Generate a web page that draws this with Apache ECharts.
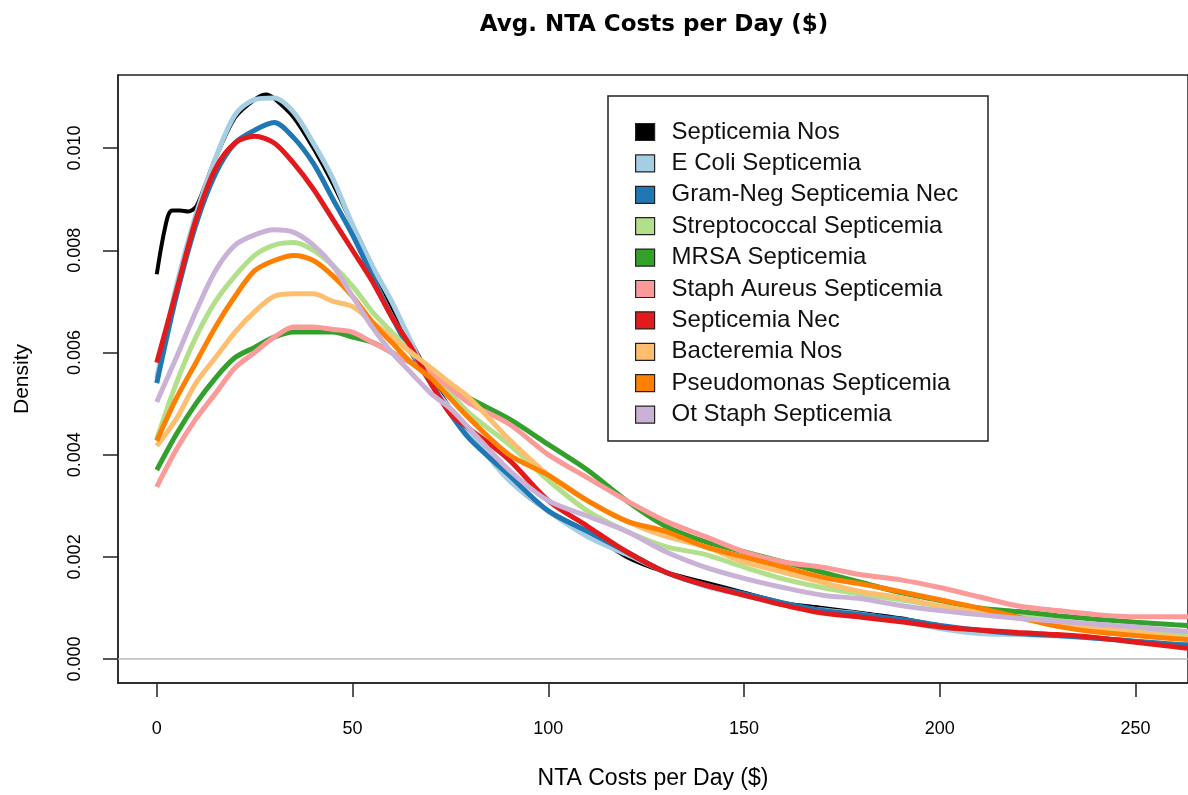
<!DOCTYPE html>
<html>
<head>
<meta charset="utf-8">
<script src="https://cdn.jsdelivr.net/npm/echarts@6/dist/echarts.min.js"></script>
<style>
  html, body { margin: 0; padding: 0; background: #fff; }
  #container { width: 1188px; height: 795px; }
</style>
</head>
<body>
<div id="container"></div>
<script>
// density estimates
var xs = [0, 5, 10, 15, 20, 25, 30, 35, 40, 45, 50, 55, 60, 65, 70, 75, 80, 90, 100, 110,
          120, 130, 140, 150, 160, 170, 180, 190, 200, 210, 220, 230, 240, 250, 260, 265];

var nosXs = [0, 1, 2, 3, 4, 6, 8, 10, 12, 15, 20, 25, 28, 30, 35, 40, 45, 50, 55, 60, 65, 70,
             75, 80, 90, 100, 110, 120, 130, 140, 150, 160, 170, 180, 190, 200, 210, 220, 230,
             240, 250, 260, 265];
var septicemiaNos = [0.00753, 0.0080, 0.0084, 0.0087, 0.00878, 0.00878, 0.00876, 0.00885, 0.0092,
                     0.0098, 0.0106, 0.01095, 0.01105, 0.01097, 0.0106, 0.0100, 0.0093, 0.0085,
                     0.0077, 0.0069, 0.0062, 0.0055, 0.0049, 0.0044, 0.0035, 0.0029, 0.0025,
                     0.0020, 0.0017, 0.0015, 0.0013, 0.0011, 0.0010, 0.0009, 0.0008, 0.00065,
                     0.00055, 0.0005, 0.00046, 0.00042, 0.00035, 0.00028, 0.00026];

var eColi = [0.0055, 0.0073, 0.0087, 0.0098, 0.01065, 0.01095, 0.01098, 0.0107, 0.0101, 0.0094,
             0.0085, 0.0077, 0.0070, 0.0062, 0.0054, 0.0049, 0.0044, 0.0035, 0.0029, 0.0024,
             0.00205, 0.0017, 0.00143, 0.00125, 0.00106, 0.00096, 0.00088, 0.00075, 0.0006,
             0.0005, 0.00048, 0.00045, 0.00041, 0.00034, 0.00029, 0.00027];
var gramNeg = [0.0054, 0.0071, 0.0085, 0.0095, 0.0101, 0.01035, 0.0105, 0.0102, 0.0097, 0.0090,
               0.0083, 0.0075, 0.0067, 0.0060, 0.0054, 0.0048, 0.0043, 0.0036, 0.0029, 0.0025,
               0.0021, 0.0017, 0.00145, 0.00128, 0.0011, 0.00095, 0.00087, 0.00078, 0.00066,
               0.00057, 0.0005, 0.00046, 0.00041, 0.00035, 0.00029, 0.00027];
var strep = [0.0043, 0.0054, 0.0063, 0.0070, 0.0075, 0.0079, 0.0081, 0.00815, 0.0080, 0.0077,
             0.0073, 0.0068, 0.0064, 0.0060, 0.0056, 0.0052, 0.0048, 0.0042, 0.0035, 0.0029,
             0.0025, 0.0022, 0.00205, 0.0018, 0.00157, 0.0014, 0.00127, 0.00116, 0.00104,
             0.00094, 0.00084, 0.00075, 0.00066, 0.00057, 0.00049, 0.00046];
var mrsa = [0.0037, 0.0044, 0.0050, 0.0055, 0.0059, 0.0061, 0.0063, 0.0064, 0.0064, 0.0064,
            0.0063, 0.0062, 0.0060, 0.0058, 0.0056, 0.00535, 0.0051, 0.0047, 0.0042, 0.0037,
            0.0031, 0.0026, 0.0023, 0.0021, 0.0019, 0.0017, 0.0015, 0.0013, 0.00115, 0.001,
            0.00093, 0.00085, 0.00078, 0.00072, 0.00067, 0.00065];
var staphAureus = [0.00337, 0.0041, 0.0047, 0.0052, 0.0057, 0.0060, 0.0063, 0.0065, 0.0065, 0.00645,
                   0.0064, 0.0062, 0.0060, 0.0058, 0.0056, 0.0053, 0.0050, 0.0046, 0.0040, 0.00355,
                   0.0031, 0.0027, 0.0024, 0.0021, 0.0019, 0.0018, 0.00165, 0.00155, 0.0014,
                   0.00122, 0.00104, 0.00095, 0.00087, 0.00083, 0.00083, 0.00083];
var septicemiaNec = [0.0058, 0.0072, 0.0086, 0.0096, 0.0101, 0.01023, 0.0101, 0.0097, 0.0092, 0.0086,
                     0.0080, 0.0074, 0.0067, 0.0061, 0.0054, 0.0048, 0.0045, 0.0039, 0.0031, 0.0026,
                     0.0021, 0.0017, 0.00145, 0.00125, 0.00106, 0.0009, 0.00082, 0.00073, 0.00063,
                     0.00057, 0.00052, 0.00048, 0.00042, 0.00033, 0.00024, 0.0002];
var bacteremia = [0.00417, 0.0047, 0.0054, 0.0059, 0.0064, 0.0068, 0.0071, 0.00715, 0.00715, 0.0070,
                  0.0069, 0.0066, 0.0063, 0.0060, 0.0057, 0.0054, 0.0051, 0.0043, 0.0036, 0.0031,
                  0.0027, 0.0024, 0.0022, 0.0019, 0.0017, 0.0015, 0.00132, 0.0012, 0.00104,
                  0.00092, 0.0008, 0.00068, 0.0006, 0.00053, 0.00043, 0.0004];
var pseudomonas = [0.00427, 0.0051, 0.0058, 0.0065, 0.0071, 0.0076, 0.0078, 0.0079, 0.0078, 0.0075,
                   0.0071, 0.0066, 0.0062, 0.0058, 0.0055, 0.0051, 0.0047, 0.0040, 0.0036, 0.0031,
                   0.0027, 0.0025, 0.0022, 0.0020, 0.0018, 0.0016, 0.00147, 0.00132, 0.00116,
                   0.001, 0.00082, 0.00064, 0.00053, 0.00046, 0.0004, 0.00037];
var otStaph = [0.00503, 0.0059, 0.0068, 0.0076, 0.0081, 0.0083, 0.0084, 0.00835, 0.0081, 0.0077,
               0.0071, 0.0065, 0.0060, 0.0056, 0.0052, 0.0049, 0.0045, 0.0037, 0.0031, 0.0028,
               0.0025, 0.0021, 0.0018, 0.00158, 0.0014, 0.00125, 0.00118, 0.00105, 0.00095,
               0.00087, 0.0008, 0.00074, 0.00068, 0.00063, 0.00056, 0.00053];

var names = ["Septicemia Nos", "E Coli Septicemia", "Gram-Neg Septicemia Nec",
             "Streptococcal Septicemia", "MRSA Septicemia", "Staph Aureus Septicemia",
             "Septicemia Nec", "Bacteremia Nos", "Pseudomonas Septicemia", "Ot Staph Septicemia"];
var colors = ["#000000", "#A6CEE3", "#1F78B4", "#B2DF8A", "#33A02C",
              "#FB9A99", "#E31A1C", "#FDBF6F", "#FF7F00", "#CAB2D6"];
var xTicks = [0, 50, 100, 150, 200, 250];
var yTicks = [0, 0.002, 0.004, 0.006, 0.008, 0.010];

var ys = [septicemiaNos, eColi, gramNeg, strep, mrsa, staphAureus,
          septicemiaNec, bacteremia, pseudomonas, otStaph];

function pairs(x, y) {
    return y.map(function(v, i) { return [x[i], v]; });
}

var font = "'Liberation Sans', Arial, sans-serif";

var series = names.map(function(name, k) {
    var s = {
        name: name,
        type: 'line',
        color: colors[k],
        showSymbol: false,
        smooth: 0.3,
        lineStyle: { width: 5, color: colors[k], cap: 'butt' },
        data: pairs(k === 0 ? nosXs : xs, ys[k])
    };
    if (k === 0) {
        s.lineStyle.width = 4;
        s.markLine = {
            silent: true,
            symbol: 'none',
            label: { show: false },
            lineStyle: { color: '#bbbbbb', width: 1.5, type: 'solid' },
            data: [{ yAxis: 0 }]
        };
    }
    return s;
});

var myChart = echarts.init(document.getElementById('container'), null, { renderer: 'canvas' });
myChart.setOption({
    animation: false,
    backgroundColor: '#fff',
    title: {
        text: 'Avg. NTA Costs per Day ($)',
        left: 649,
        top: 9,
        textAlign: 'center',
        textStyle: { fontFamily: "'DejaVu Sans', sans-serif", fontSize: 23, fontWeight: 'bold', color: '#000' }
    },
    grid: {
        left: 118, top: 75, right: -2, bottom: 110,
        show: true, borderColor: '#222', borderWidth: 1.5
    },
    legend: {
        orient: 'vertical',
        left: 630,
        top: 115,
        icon: 'rect',
        itemWidth: 19,
        itemHeight: 17,
        itemGap: 7.4,
        itemStyle: { borderColor: '#222', borderWidth: 1.2 },
        textStyle: { fontFamily: font, fontSize: 24, color: '#111', padding: [0, 0, 0, 12] },
        data: names
    },
    graphic: [{
        type: 'rect',
        shape: { x: 608, y: 96, width: 380, height: 345 },
        style: { fill: 'none', stroke: '#222', lineWidth: 1.5 },
        silent: true
    }],
    xAxis: {
        type: 'value',
        min: -9.9,
        max: 263.4,
        name: 'NTA Costs per Day ($)',
        nameLocation: 'middle',
        nameGap: 84,
        nameTextStyle: { fontFamily: font, fontSize: 23, color: '#000' },
        axisLine: { show: true, onZero: false, lineStyle: { color: '#222', width: 1.5 } },
        axisTick: { show: true, length: 14, lineStyle: { color: '#222', width: 1.5 }, customValues: xTicks },
        axisLabel: { fontFamily: font, fontSize: 18, color: '#000', margin: 37, customValues: xTicks },
        splitLine: { show: false }
    },
    yAxis: {
        type: 'value',
        min: -0.000468,
        max: 0.01143,
        name: 'Density',
        nameLocation: 'middle',
        nameGap: 85,
        nameRotate: 90,
        nameTextStyle: { fontFamily: font, fontSize: 21, color: '#000' },
        axisLine: { show: true, onZero: false, lineStyle: { color: '#222', width: 1.5 } },
        axisTick: { show: true, length: 15, lineStyle: { color: '#222', width: 1.5 }, customValues: yTicks },
        axisLabel: {
            fontFamily: font, fontSize: 18, color: '#000', margin: 34, rotate: 90,
            customValues: yTicks,
            formatter: function(v) { return v.toFixed(3); }
        },
        splitLine: { show: false }
    },
    series: series
});
</script>
</body>
</html>
